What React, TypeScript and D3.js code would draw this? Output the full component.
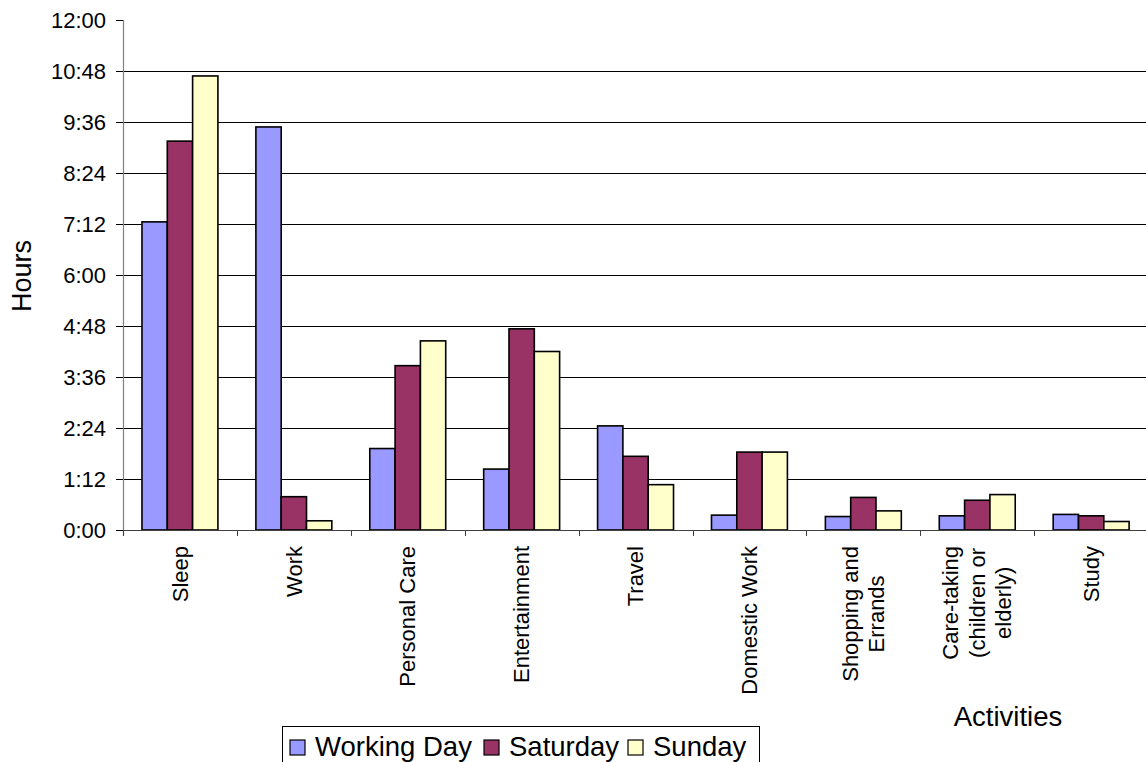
import React, { useEffect, useRef } from "react";
import * as d3 from "d3";

// Average time spent per activity, in minutes
const categories: string[][] = [
  ["Sleep"],
  ["Work"],
  ["Personal Care"],
  ["Entertainment"],
  ["Travel"],
  ["Domestic Work"],
  ["Shopping and", "Errands"],
  ["Care-taking", "(children or", "elderly)"],
  ["Study"],
];
const seriesNames = ["Working Day", "Saturday", "Sunday"];
const workingDay = [435, 569, 115, 86, 147, 21, 19, 20, 22];
const saturday = [549, 47, 232, 284, 104, 110, 46, 42, 20];
const sunday = [641, 13, 267, 252, 64, 110, 27, 50, 12];
const yTicks = [0, 72, 144, 216, 288, 360, 432, 504, 576, 648, 720];
const colors = ["#9999FF", "#993366", "#FFFFCC"];

const W = 1146;
const H = 762;
const FONT = "'Liberation Sans', Arial, Helvetica, sans-serif";

const fmt = (m: number) => `${Math.floor(m / 60)}:${String(m % 60).padStart(2, "0")}`;

export default function App() {
  const ref = useRef<SVGSVGElement | null>(null);

  useEffect(() => {
    const svg = d3.select(ref.current);
    svg.selectAll("*").remove();

    const left = 123;
    const top = 20;
    const bottom = 530;
    const right = left + 9 * 113.9;

    const x = d3
      .scaleBand<number>()
      .domain(d3.range(categories.length))
      .range([left, right])
      .paddingInner(0)
      .paddingOuter(0);
    const inner = d3
      .scaleBand<number>()
      .domain([0, 1, 2])
      .range([0, x.bandwidth()])
      .paddingInner(0)
      .paddingOuter(0.75);
    const y = d3.scaleLinear().domain([0, 720]).range([bottom, top]);

    const g = svg.append("g").attr("font-family", FONT);

    // gridlines
    g.selectAll("line.grid")
      .data(yTicks.filter((t) => t > 0 && t < 720))
      .join("line")
      .attr("x1", left)
      .attr("x2", right)
      .attr("y1", (d) => Math.round(y(d)) + 0.5)
      .attr("y2", (d) => Math.round(y(d)) + 0.5)
      .attr("stroke", "#000")
      .attr("stroke-width", 1);

    // bars
    const series = [workingDay, saturday, sunday];
    series.forEach((vals, si) => {
      g.append("g")
        .selectAll("rect")
        .data(vals)
        .join("rect")
        .attr("x", (_, i) => (x(i) as number) + (inner(si) as number))
        .attr("y", (d) => y(d))
        .attr("width", inner.bandwidth())
        .attr("height", (d) => bottom - y(d))
        .attr("fill", colors[si])
        .attr("stroke", "#000")
        .attr("stroke-width", 1.6);
    });

    // y axis
    g.append("line")
      .attr("x1", left + 0.5)
      .attr("x2", left + 0.5)
      .attr("y1", top)
      .attr("y2", bottom + 6)
      .attr("stroke", "#808080")
      .attr("stroke-width", 1.2);
    g.selectAll("line.ytick")
      .data(yTicks)
      .join("line")
      .attr("x1", left - 7)
      .attr("x2", left)
      .attr("y1", (d) => Math.round(y(d)) + 0.5)
      .attr("y2", (d) => Math.round(y(d)) + 0.5)
      .attr("stroke", "#000");
    g.selectAll("text.ylab")
      .data(yTicks)
      .join("text")
      .attr("x", 106)
      .attr("y", (d) => y(d))
      .attr("dy", "0.35em")
      .attr("text-anchor", "end")
      .attr("font-size", 22)
      .attr("fill", "#000")
      .text((d) => fmt(d));

    // x axis
    g.append("line")
      .attr("x1", left)
      .attr("x2", right)
      .attr("y1", bottom + 0.5)
      .attr("y2", bottom + 0.5)
      .attr("stroke", "#404040")
      .attr("stroke-width", 1.2);
    g.selectAll("line.xtick")
      .data(d3.range(categories.length + 1))
      .join("line")
      .attr("x1", (d) => Math.round(left + d * x.bandwidth()) + 0.5)
      .attr("x2", (d) => Math.round(left + d * x.bandwidth()) + 0.5)
      .attr("y1", bottom)
      .attr("y2", bottom + 6)
      .attr("stroke", "#404040");

    // rotated category labels
    const lineH = 26.5;
    categories.forEach((lines, i) => {
      const cx = (x(i) as number) + x.bandwidth() / 2;
      const lg = g.append("g").attr("transform", `translate(${cx},546) rotate(-90)`);
      const texts = lines.map((ln, li) =>
        lg
          .append("text")
          .attr("font-size", 22)
          .attr("text-anchor", "middle")
          .attr("dy", "0.35em")
          .attr("y", (li - (lines.length - 1) / 2) * lineH)
          .text(ln)
      );
      const maxW = d3.max(texts, (t) => (t.node() as SVGTextElement).getComputedTextLength()) || 0;
      texts.forEach((t) => t.attr("x", -maxW / 2));
    });

    // axis titles
    g.append("text")
      .attr("transform", `translate(31,276) rotate(-90)`)
      .attr("text-anchor", "middle")
      .attr("font-size", 27)
      .text("Hours");
    g.append("text")
      .attr("x", 1008)
      .attr("y", 726)
      .attr("text-anchor", "middle")
      .attr("font-size", 27.5)
      .text("Activities");

    // legend
    const lgd = g.append("g");
    lgd
      .append("rect")
      .attr("x", 282.5)
      .attr("y", 726.5)
      .attr("width", 477)
      .attr("height", 50)
      .attr("fill", "#fff")
      .attr("stroke", "#000")
      .attr("stroke-width", 1);
    const legendX = [290, 484, 628];
    seriesNames.forEach((name, si) => {
      lgd
        .append("rect")
        .attr("x", legendX[si])
        .attr("y", 740)
        .attr("width", 15)
        .attr("height", 15)
        .attr("fill", colors[si])
        .attr("stroke", "#000")
        .attr("stroke-width", 1.2);
      lgd
        .append("text")
        .attr("x", legendX[si] + 25)
        .attr("y", 756)
        .attr("font-size", 27.5)
        .text(name);
    });
  }, []);

  return (
    <svg
      ref={ref}
      width={W}
      height={H}
      style={{ position: "absolute", left: 0, top: 0, background: "#fff" }}
    />
  );
}
